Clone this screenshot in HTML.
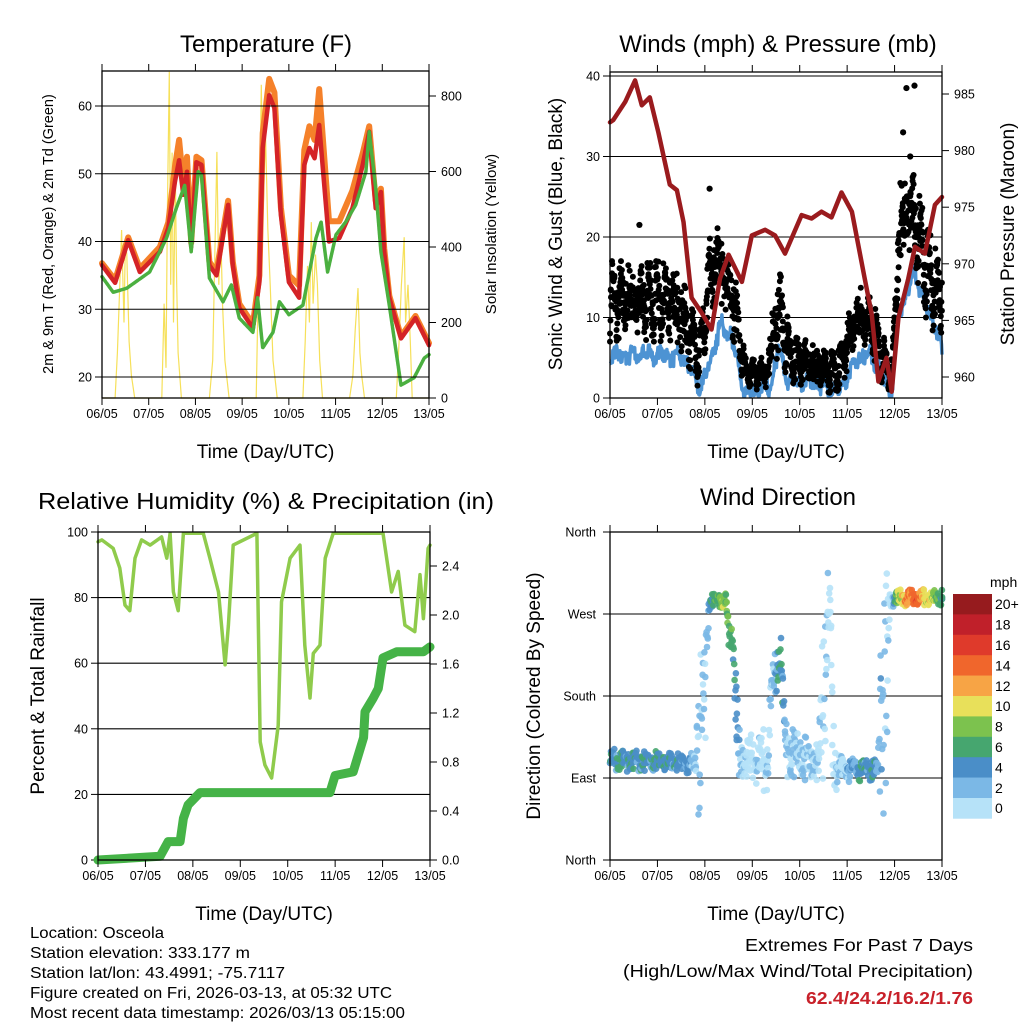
<!DOCTYPE html>
<html><head><meta charset="utf-8"><style>
html,body{margin:0;padding:0;background:#fff;}
svg{display:block;font-family:"Liberation Sans",sans-serif;}
</style></head><body>
<svg id="root" width="1024" height="1024" viewBox="0 0 1024 1024" xmlns="http://www.w3.org/2000/svg">
<g font-size="15.5" fill="#000">
<text x="30" y="938" textLength="134" lengthAdjust="spacingAndGlyphs">Location: Osceola</text>
<text x="30" y="958" textLength="220" lengthAdjust="spacingAndGlyphs">Station elevation: 333.177 m</text>
<text x="30" y="978" textLength="255" lengthAdjust="spacingAndGlyphs">Station lat/lon: 43.4991; -75.7117</text>
<text x="30" y="998" textLength="362" lengthAdjust="spacingAndGlyphs">Figure created on Fri, 2026-03-13, at 05:32 UTC</text>
<text x="30" y="1018" textLength="375" lengthAdjust="spacingAndGlyphs">Most recent data timestamp: 2026/03/13 05:15:00</text>
</g>
<g font-size="17.5" text-anchor="end">
<text x="973" y="951" textLength="228" lengthAdjust="spacingAndGlyphs">Extremes For Past 7 Days</text>
<text x="973" y="977" textLength="350" lengthAdjust="spacingAndGlyphs">(High/Low/Max Wind/Total Precipitation)</text>
<text x="973" y="1004" textLength="167" lengthAdjust="spacingAndGlyphs" fill="#c8212a" font-weight="bold">62.4/24.2/16.2/1.76</text>
</g>
</svg>
<script>
// ---------- DATA ----------
const dayLabels=["06/05","07/05","08/05","09/05","10/05","11/05","12/05","13/05"];
// Temperature panel
const tempTicks=[20,30,40,50,60];
const solarTicks=[0,200,400,600,800];
const redT=[0,0.28,0.56,0.81,1.24,1.42,1.56,1.65,1.74,1.82,1.91,2.02,2.13,2.3,2.45,2.7,2.8,2.94,3.23,3.37,3.44,3.58,3.69,3.83,4.0,4.22,4.33,4.44,4.55,4.65,4.86,5.08,5.36,5.58,5.72,5.86,5.97,6.04,6.15,6.4,6.71,7.0];
const redV=[36.5,33.9,40.2,35.5,38.5,42.0,48.8,52.0,46.9,50.3,39.2,51.7,51.3,36.5,35.0,45.4,36.5,30.2,27.2,34.0,53.8,61.6,59.7,43.9,34.0,31.7,51.3,53.8,52.3,57.2,40.0,40.5,44.9,51.3,56.2,44.9,47.3,38.5,31.7,25.7,28.7,24.7];
const orangeV=[36.8,34.3,40.6,36.0,39.2,42.8,51.0,55.0,48.5,52.5,39.8,52.5,52.0,37.0,35.5,46.0,37.0,30.8,27.8,35.0,56.0,64.0,62.0,45.0,35.0,33.5,53.5,57.0,55.0,62.5,43.0,43.0,47.5,53.0,57.0,46.0,47.8,39.0,32.0,26.0,29.0,25.0];
const greenT=[0,0.24,0.53,1.02,1.38,1.59,1.77,1.91,2.06,2.13,2.3,2.59,2.77,2.94,3.23,3.33,3.44,3.66,3.8,4.0,4.3,4.58,4.69,4.83,5.01,5.22,5.43,5.65,5.72,5.86,5.97,6.15,6.4,6.68,6.9,7.0];
const greenV=[34.8,32.5,33.1,35.5,40.5,44.9,48.3,38.5,50.3,49.8,34.6,31.1,33.6,28.7,26.6,31.7,24.3,26.6,31.1,29.2,30.6,40.5,42.9,35.5,41.0,42.9,45.4,50.3,56.2,47.9,38.5,30.6,18.8,19.9,22.8,23.3];
const solarT=[0,0.28,0.33,0.38,0.42,0.47,0.5,0.53,0.58,0.63,0.7,1.28,1.33,1.37,1.4,1.44,1.47,1.5,1.53,1.57,1.6,1.63,1.7,2.3,2.37,2.42,2.46,2.5,2.54,2.58,2.63,2.72,3.3,3.36,3.41,3.45,3.5,3.55,3.6,3.66,3.75,4.3,4.35,4.4,4.44,4.48,4.52,4.57,4.61,4.66,4.72,5.3,5.37,5.42,5.48,5.52,5.56,5.62,6.3,6.36,6.41,6.47,6.5,6.55,6.6,6.64,7.0];
const solarV=[0,0,120,300,445,200,420,380,150,60,0,0,250,80,500,864,300,650,200,600,300,120,0,0,100,400,652,300,450,250,100,0,0,400,830,500,700,450,300,100,0,0,150,350,200,466,250,380,300,100,0,0,60,180,291,120,60,0,0,150,300,426,200,300,150,0,0];
// Winds panel
const windTicks=[0,10,20,30,40];
const presTicks=[960,965,970,975,980,985];
const presT=[0,0.07,0.32,0.53,0.67,0.84,1.02,1.26,1.41,1.55,1.72,1.93,2.14,2.32,2.5,2.78,2.99,3.27,3.48,3.69,4.04,4.25,4.46,4.67,4.88,5.1,5.37,5.52,5.66,5.83,5.94,6.08,6.29,6.43,6.64,6.85,7.0];
const presV=[982.5,982.7,984.3,986.2,984.0,984.7,981.6,977.0,976.5,973.7,967.0,965.7,964.2,968.7,970.8,968.4,972.5,973.0,972.5,970.9,974.3,974.0,974.6,974.1,976.3,974.6,968.7,965.5,959.6,961.7,958.7,965.2,968.7,971.5,970.9,975.2,975.9];
const sonicT=[0,1.2,1.3,1.5,1.93,2.35,2.56,2.85,3.4,3.55,3.76,4.1,4.46,4.8,5.24,5.52,5.8,5.94,6.08,6.22,6.43,6.64,6.85,7.0];
const sonicV=[5.3,5.3,5.0,5.3,1.2,9.1,7.4,0.4,1.6,6.2,2.0,2.0,1.6,0.8,5.0,5.3,2.0,0.4,10.3,12.4,15.7,11.6,9.1,5.7];
const gustT=[0,1.3,1.5,1.9,2.1,2.3,2.6,2.85,3.3,3.55,3.8,4.2,4.8,5.2,5.5,5.8,5.95,6.1,6.3,6.5,6.7,7.0];
const gustMid=[12,12,10,5,15,17,12,3,3,11,5,4,3,10,9,4,3,20,24,20,15,12];
const gustSpread=[5,5,5,4,5,5,5,2,2,6,3,3,2.5,4,4,3,2,7,7,6,6,5];
const gustOutT=[0.62,2.1,6.25,6.42,6.33,6.18];
const gustOutV=[21.5,26,38.5,38.8,30,33];
const jitter=[-0.91,0.37,-0.22,0.83,-0.57,0.12,0.96,-0.74,0.51,-0.06,0.66,-0.41,0.27,-0.88,0.03,0.74,-0.33,0.45,-0.63,0.91,-0.15,0.58,-0.97,0.19,-0.49,0.86,-0.27,0.34,-0.71,0.08,0.69,-0.81,0.42,-0.11,0.79,-0.53,0.23];
// RH panel
const rhTicks=[0,20,40,60,80,100];
const rainTicks=[0,0.4,0.8,1.2,1.6,2.0,2.4];
const rhT=[0,0.08,0.32,0.46,0.57,0.67,0.78,0.92,1.1,1.34,1.45,1.52,1.59,1.69,1.8,2.22,2.36,2.54,2.68,2.75,2.85,3.35,3.42,3.52,3.66,3.8,3.87,4.05,4.26,4.36,4.47,4.54,4.68,4.79,4.96,6.01,6.19,6.33,6.47,6.68,6.79,6.86,6.96,7.0];
const rhV=[97,97.6,95,89,77.7,76,92,97.6,96,98.5,92,99.6,81.7,76,99.6,99.6,92,81.7,59.5,71.6,96,99.6,36,29,25,41,78.7,92,96,65.5,49.4,63,65.5,92,99.6,99.6,81.7,88,71.6,69.6,87,73.6,95,96];
const rainT=[0,1.31,1.48,1.73,1.8,1.9,2.15,4.89,5.0,5.38,5.6,5.63,5.8,5.91,6.01,6.3,6.86,7.0];
const rainV=[0,0.03,0.15,0.15,0.34,0.45,0.55,0.55,0.69,0.72,1.0,1.21,1.32,1.4,1.65,1.7,1.7,1.74];
// Wind direction panel
const dirLabels=["North","East","South","West","North"];
const dirTickVals=[0,90,180,270,360];
const dirT=[0,1.8,1.85,2.0,2.05,2.1,2.45,2.5,2.6,2.7,2.75,3.2,3.3,3.4,3.6,3.7,4.4,4.5,4.65,4.7,4.8,5.65,5.7,5.85,5.9,7.0];
const dirMid=[110,105,150,150,250,285,285,245,240,110,110,110,100,180,230,120,105,200,280,110,100,100,180,180,287,287];
const dirSpread=[12,12,100,100,30,8,8,25,20,60,25,30,50,30,25,30,20,140,20,60,15,12,150,150,10,10];
const speedBins=["0","2","4","6","8","10","12","14","16","18","20+"];
const binColors=["#b6e2f8","#7bb8e6","#4a8ec8","#46a66f","#7cc24e","#e8e05a","#f7a445","#f0662c","#df3a2b","#c0202a","#961b1e"];

// ---------- HELPERS ----------
const NS="http://www.w3.org/2000/svg";
const root=document.getElementById('root');
function mk(tag,attrs,parent){const e=document.createElementNS(NS,tag);for(const k in attrs)e.setAttribute(k,attrs[k]);(parent||root).appendChild(e);return e;}
function interp(ts,vs,t){if(t<=ts[0])return vs[0];for(let i=1;i<ts.length;i++){if(t<=ts[i]){const f=(t-ts[i-1])/(ts[i]-ts[i-1]);return vs[i-1]+f*(vs[i]-vs[i-1]);}}return vs[vs.length-1];}
function lin(d0,d1,r0,r1){return v=>r0+(v-d0)/(d1-d0)*(r1-r0);}
function poly(ts,vs,sx,sy,attrs,parent){return mk('polyline',Object.assign({points:ts.map((t,i)=>sx(t).toFixed(1)+','+sy(vs[i]).toFixed(1)).join(' '),fill:'none','stroke-linejoin':'round','stroke-linecap':'round'},attrs),parent);}
function txt(s,attrs,parent){const e=mk('text',attrs,parent);e.textContent=s;return e;}
// mixed jitter: combine two cycles of different length (37 and 31) to avoid visible periodicity
function jit(k,m){const a=jitter[(k*m)%37], b=jitter[(k*11+m)%31];return Math.max(-1,Math.min(1,0.6*a+0.55*b));}

function frame(g,x0,y0,x1,y1,sx){
  dayLabels.forEach((lab,i)=>{
    const x=sx(i);
    const t1=mk('line',{x1:x,y1:y0,x2:x,y2:y0-7,stroke:'#000','stroke-width':1},g);
    
    
    const t2=mk('line',{x1:x,y1:y1,x2:x,y2:y1+7,stroke:'#000','stroke-width':1},g);
    
    
    const l=txt(lab,{x:x,y:y1+20,'font-size':12.5,'text-anchor':'middle'},g);
    
    
  });
  const r=mk('rect',{x:x0,y:y0,width:x1-x0,height:y1-y0,fill:'none',stroke:'#000','stroke-width':1.3},g);
  
  
  const xt=txt('Time (Day/UTC)',{x:(x0+x1)/2,y:y1+60,'font-size':19,'text-anchor':'middle'},g);
  
  
}
function leftAxis(g,ticks,sy,x0,x1,fmt,grid){
  ticks.forEach(v=>{const y=sy(v);
    if(grid){const gl=mk('line',{x1:x0,y1:y,x2:x1,y2:y,stroke:'#000','stroke-width':1.1},g);
      
      }
    const tk=mk('line',{x1:x0-7,y1:y,x2:x0,y2:y,stroke:'#000'},g);
    
    
    const l=txt(fmt(v),{x:x0-10,y:y+4.5,'font-size':12.5,'text-anchor':'end'},g);
    
    });
}
function rightAxis(g,ticks,sy,x1,fmt){
  ticks.forEach(v=>{const y=sy(v);
    const tk=mk('line',{x1:x1,y1:y,x2:x1+7,y2:y,stroke:'#000'},g);
    
    
    const l=txt(fmt(v),{x:x1+12,y:y+4.5,'font-size':12.5},g);
    
    });
}
function vtitle(g,s,x,y,size,name){const e=txt(s,{x:x,y:y,'font-size':size,'text-anchor':'middle',transform:`rotate(-90 ${x} ${y})`},g);
  
  return e;}
function title(g,s,x,y,name){const e=txt(s,{x:x,y:y,'font-size':24,'text-anchor':'middle'},g);
  
  }

// ---------- PANEL 1: TEMPERATURE ----------
(function(){
  const g=mk('g',{});
  
  
  const x0=102,x1=429,y0=71,y1=398;
  const sx=lin(0,7,x0,x1), sy=lin(20,60,377,106), sS=lin(0,800,398,96);
  title(g,'Temperature (F)',266,52,'temperature-title');
  const cg=mk('g',{},g);
  leftAxis(g,tempTicks,sy,x0,x1,v=>v,true);
  rightAxis(g,solarTicks,sS,x1,v=>v);
  const s=poly(solarT,solarV,sx,sS,{stroke:'#f6e05a','stroke-width':1.2,'stroke-linecap':'butt','stroke-linejoin':'miter'},cg);
  
  
  const o=poly(redT,orangeV,sx,sy,{stroke:'#f5812a','stroke-width':6},cg);
  
  
  const r=poly(redT,redV,sx,sy,{stroke:'#d42327','stroke-width':4.5},cg);
  
  
  const gr=poly(greenT,greenV,sx,sy,{stroke:'#4bb040','stroke-width':3.5,'stroke-dasharray':'3 1'},cg);
  
  
  frame(g,x0,y0,x1,y1,sx);
  vtitle(g,'2m & 9m T (Red, Orange) & 2m Td (Green)',53,234,14.5,'left-axis-title');
  vtitle(g,'Solar Insolation (Yellow)',496,234,15,'right-axis-title');
})();

// ---------- PANEL 2: WINDS & PRESSURE ----------
(function(){
  const g=mk('g',{});
  
  
  const x0=610,x1=942,y0=72,y1=398;
  const sx=lin(0,7,x0,x1), sy=lin(0,40,398,76), sp=lin(960,985,377,94);
  title(g,'Winds (mph) & Pressure (mb)',778,52,'winds-title');
  leftAxis(g,windTicks,sy,x0,x1,v=>v,true);
  rightAxis(g,presTicks,sp,x1,v=>v);
  const cg=mk('g',{},g);
  const bandPts=[];
  for(let k=0;k<=700;k++){const t=k*0.01;
    const v=Math.max(0.2,interp(sonicT,sonicV,t)+1.3*jit(k,11));
    bandPts.push(sx(t).toFixed(1)+','+sy(v).toFixed(1));}
  const b=mk('polyline',{points:bandPts.join(' '),fill:'none',stroke:'#4d93d3','stroke-width':3.5,'stroke-linejoin':'round'},cg);
  
  
  for(let k=0;k<=1400;k++){const t=Math.max(0,Math.min(7,k*0.005+0.006*jit(k,7)));
    const m=interp(gustT,gustMid,t), sp2=interp(gustT,gustSpread,t);
    const v=Math.max(0.3,m+sp2*jit(k,13));
    const c=mk('circle',{cx:sx(t).toFixed(1),cy:sy(v).toFixed(1),r:3,fill:'#000'},cg);
    
    }
  gustOutT.forEach((t,i)=>{const c=mk('circle',{cx:sx(t),cy:sy(gustOutV[i]),r:3.1,fill:'#000'},cg);
    
    });
  const p=poly(presT,presV,sx,sp,{stroke:'#9a1b1e','stroke-width':4.5},cg);
  
  
  frame(g,x0,y0,x1,y1,sx);
  vtitle(g,'Sonic Wind & Gust (Blue, Black)',562,234,19,'left-axis-title');
  vtitle(g,'Station Pressure (Maroon)',1014,234,19,'right-axis-title');
})();

// ---------- PANEL 3: RH & PRECIP ----------
(function(){
  const g=mk('g',{});
  
  
  const x0=98,x1=430,y0=532,y1=860;
  const sx=lin(0,7,x0,x1), sy=lin(0,100,860,532), sr=lin(0,2.4,860,566);
  txt('Relative Humidity (%) & Precipitation (in)',{x:266,y:509,'font-size':23,'text-anchor':'middle',textLength:456,lengthAdjust:'spacingAndGlyphs',},g);
  leftAxis(g,rhTicks,sy,x0,x1,v=>v,true);
  rightAxis(g,rainTicks,sr,x1,v=>v.toFixed(1));
  const cg=mk('g',{},g);
  const rh=poly(rhT,rhV,sx,sy,{stroke:'#8fcb4c','stroke-width':3.5},cg);
  
  
  const rn=poly(rainT,rainV,sx,sr,{stroke:'#45b347','stroke-width':9},cg);
  
  
  frame(g,x0,y0,x1,y1,sx);
  vtitle(g,'Percent & Total Rainfall',44,696,19,'left-axis-title');
})();

// ---------- PANEL 4: WIND DIRECTION ----------
(function(){
  const g=mk('g',{});
  
  
  const x0=610,x1=942,y0=532,y1=860;
  const sx=lin(0,7,x0,x1), sy=lin(0,360,860,532);
  title(g,'Wind Direction',778,505,'direction-title');
  dirTickVals.forEach((v,i)=>{const y=sy(v);
    const gl=mk('line',{x1:x0,y1:y,x2:x1,y2:y,stroke:'#000','stroke-width':1.1},g);
    
    
    const tk=mk('line',{x1:x0-7,y1:y,x2:x0,y2:y,stroke:'#000'},g);
    
    
    const l=txt(dirLabels[i],{x:x0-14,y:y+4.5,'font-size':12.5,'text-anchor':'end'},g);
    
    });
  const cg=mk('g',{},g);
  for(let k=0;k<=900;k++){const t=Math.max(0,Math.min(7,k*0.0078+0.01*jit(k,5)));
    let d=interp(dirT,dirMid,t)+interp(dirT,dirSpread,t)*jit(k,17);
    d=Math.max(1,Math.min(359,d));
    const spd=Math.max(0,interp(sonicT,sonicV,t)+1.8*jit(k,23));
    const bi=Math.min(10,Math.floor(spd/2));
    const c=mk('circle',{cx:sx(t).toFixed(1),cy:sy(d).toFixed(1),r:3.3,fill:binColors[bi],'fill-opacity':0.9},cg);
    
    }
  frame(g,x0,y0,x1,y1,sx);
  vtitle(g,'Direction (Colored By Speed)',540,696,19,'left-axis-title');
  const cb=mk('g',{},g);
  
  
  const bh=20.4, top=594;
  speedBins.forEach((lab,i)=>{const idx=10-i;const y=top+i*bh;
    const r=mk('rect',{x:953,y:y,width:39,height:bh+0.3,fill:binColors[idx]},cb);
    
    
    const l=txt(speedBins[idx],{x:995,y:y+bh/2+5,'font-size':14},cb);
    
    });
  const u=txt('mph',{x:990,y:587,'font-size':14},cb);
  
  
})();
</script>
</body></html>
